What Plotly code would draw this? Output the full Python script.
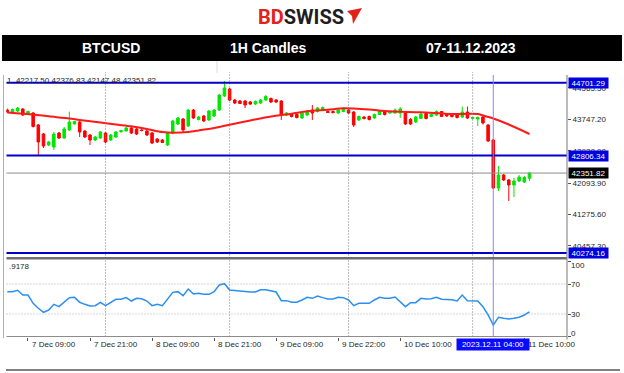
import plotly.graph_objects as go
import pandas as pd

# ---------------- data ----------------
bar_times = pd.date_range("2023-12-07 05:00", "2023-12-11 11:00", freq="h")
bar_times = bar_times[bar_times != pd.Timestamp("2023-12-09 15:00")]  # one missing hour

opens = [43990, 43938, 43964, 44016, 43886, 43912, 43601, 43367, 43081, 43029,
         43393, 43263, 43471, 43627, 43679, 43445, 43341, 43211, 43263, 43393,
         43211, 43289, 43432, 43445, 43523, 43497, 43471, 43445, 43393, 43237,
         43211, 43081, 43393, 43627, 43757, 43575, 43990, 43744, 43835, 43731,
         43835, 43990, 44354, 44536, 44250, 44224, 44224, 44198, 44146, 44172,
         44250, 44289, 44250, 44224, 43860, 43873, 43873, 43783, 43860, 43990,
         43951, 43990, 43951, 43951, 43912, 43951, 43990, 43938, 43731, 43809,
         43822, 43783, 43873, 43964, 43912, 43912, 43912, 43912, 43744, 43679,
         43770, 43899, 43822, 43860, 43951, 43873, 43860, 43886, 43809, 43938,
         43770, 43757, 43809, 43601, 43211, 41964, 42302, 42172, 42042, 42146,
         42120, 42217.50]
highs = [44029, 44029, 44068, 44042, 43977, 43938, 43627, 43393, 43185, 43419,
         43419, 43549, 43951, 43705, 43705, 43471, 43367, 43315, 43445, 43419,
         43367, 43445, 43471, 43549, 43549, 43523, 43497, 43471, 43419, 43263,
         43237, 43419, 43731, 43809, 43783, 44016, 44016, 43835, 43860, 43990,
         44016, 44406, 44744, 44562, 44276, 44250, 44250, 44224, 44237, 44276,
         44380, 44315, 44276, 44250, 43938, 43899, 43899, 43938, 43990, 44120,
         44068, 44081, 43977, 43977, 44016, 44055, 44016, 43964, 43848, 43822,
         43848, 43899, 43990, 43990, 43964, 44029, 44068, 43938, 43783, 43835,
         43912, 43925, 43886, 43977, 43964, 43886, 43886, 43912, 44081, 44081,
         43809, 43822, 43835, 43627, 43237, 42536, 42328, 42198, 42224, 42302,
         42276, 42376.83]
lows = [43912, 43925, 43938, 43835, 43860, 43536, 42821, 43003, 43055, 42951,
        43237, 43237, 43445, 43614, 43289, 43263, 43081, 43185, 43237, 43133,
        43185, 43263, 43393, 43432, 43367, 43341, 43432, 43315, 43107, 43133,
        43133, 43055, 43367, 43601, 43419, 43549, 43757, 43718, 43679, 43705,
        43809, 43964, 44328, 44224, 44146, 44146, 44042, 44120, 44120, 44146,
        44224, 44172, 44172, 43731, 43835, 43796, 43770, 43757, 43835, 43731,
        43925, 43977, 43912, 43899, 43886, 43938, 43886, 43549, 43705, 43744,
        43718, 43757, 43860, 43847, 43899, 43899, 43783, 43601, 43601, 43653,
        43757, 43744, 43809, 43835, 43809, 43809, 43796, 43770, 43783, 43757,
        43744, 43575, 43614, 43159, 41938, 41886, 42146, 41626, 41730, 42120,
        42094, 42147.48]
closes = [43938, 44003, 44042, 43860, 43951, 43562, 43159, 43055, 43159, 43367,
          43263, 43497, 43679, 43692, 43419, 43289, 43211, 43289, 43419, 43159,
          43341, 43419, 43458, 43523, 43393, 43367, 43458, 43341, 43133, 43159,
          43146, 43393, 43705, 43783, 43471, 43990, 43783, 43809, 43705, 43964,
          43990, 44380, 44562, 44250, 44172, 44159, 44120, 44146, 44211, 44250,
          44341, 44198, 44198, 43860, 43912, 43822, 43796, 43912, 43964, 43912,
          44042, 44055, 43925, 43925, 43990, 44035, 43912, 43601, 43822, 43770,
          43744, 43873, 43964, 43873, 43951, 43990, 44016, 43627, 43627, 43809,
          43886, 43770, 43873, 43951, 43822, 43835, 43822, 43796, 43938, 43783,
          43796, 43796, 43653, 43185, 41964, 42302, 42172, 42042, 42146, 42250,
          42237, 42351.82]

# moving average (read at selected bars)
ma_bars = [0, 5, 8, 12, 14, 18, 21, 24, 27, 30, 32, 35, 37, 40, 43, 47, 51, 55,
           58, 62, 65, 67, 70, 74, 80, 86, 91, 92, 94, 97, 101]
ma_vals = [43925, 43873, 43826, 43770, 43731, 43666, 43614, 43567, 43497, 43419,
           43398, 43419, 43458, 43523, 43609, 43718, 43822, 43894, 43956, 43998,
           44035, 44029, 44003, 43956, 43930, 43886, 43886, 43847, 43770, 43614,
           43367]

rsi = [59.8, 59.8, 61.6, 55.3, 55.3, 44.2, 37.6, 32.2, 35.3, 42.9,
       39.8, 46.4, 51.8, 52.2, 45.6, 42.9, 40.7, 41.1, 45.6, 41.1,
       45.1, 49.6, 49.6, 51.8, 47.3, 50.9, 50.4, 47.3, 41.1, 42.9,
       41.1, 49.6, 58.9, 59.8, 54.4, 63.3, 56.7, 57.6, 56.2, 56.2,
       59.8, 68.7, 70.4, 62.0, 61.1, 61.1, 59.8, 59.3, 59.3, 62.4,
       62.4, 60.7, 59.3, 47.8, 47.8, 45.6, 45.6, 48.7, 52.2, 50.9,
       54.0, 51.8, 50.0, 50.0, 52.2, 51.8, 48.7, 41.1, 44.2, 44.2,
       44.2, 48.7, 52.2, 50.9, 50.9, 52.7, 45.6, 39.8, 45.1, 45.1,
       50.9, 50.0, 50.4, 52.2, 49.6, 49.6, 49.1, 47.3, 55.3, 47.8,
       47.8, 47.3, 39.8, 28.7, 15.3, 25.6, 24.2, 23.3, 24.2, 25.6,
       28.7, 32.92]

level_lines = [44701.29, 42806.34, 40274.16]
last_price = 42351.82
price_ticks = [40457.30, 41275.60, 42093.90, 42928.90, 43747.20, 44565.50]
rsi_ticks = [0, 30, 70, 100]
rsi_levels = [30, 70]
time_tick_labels = ["7 Dec 09:00", "7 Dec 21:00", "8 Dec 09:00", "8 Dec 21:00",
                    "9 Dec 09:00", "9 Dec 22:00", "10 Dec 10:00", "11 Dec 10:00"]
cursor_time = "2023-12-11 04:00"
ohlc_text = "1  42217.50 42376.83 42147.48 42351.82"
rsi_text = ".9178"
header_cells = ["BTCUSD", "1H Candles", "07-11.12.2023"]

# ---------------- helpers ----------------
W, H = 624, 373
def fx(p):
    return p / W
def fy(p):
    return 1 - p / H

labels = [t.strftime("%-d %b %H:%M") for t in bar_times]
xi = list(range(len(bar_times)))
tick_idx = [labels.index(t) for t in time_tick_labels]
cursor_idx = list(bar_times).index(pd.Timestamp(cursor_time))
midnights = [i for i, t in enumerate(bar_times) if t.hour == 0]

X0, X1 = 6.5, 567.0
MAIN_T, MAIN_B = 75.0, 258.0
RSI_T, RSI_B = 259.0, 336.5
bar_px = 5.17
first_px = 7.3
xrange_ = [(X0 - first_px) / bar_px, (X1 - first_px) / bar_px]
ppx = 25.98
ref_p, ref_y = 42093.90, 183.0
yrange_ = [ref_p - (MAIN_B - ref_y) * ppx, ref_p + (ref_y - MAIN_T) * ppx]
rsi_range = [0, (RSI_B - RSI_T) / 0.75]

GREEN = "#00e600"
RED = "#ff0000"
FONT = "Liberation Sans"
TXT = "#262626"

fig = go.Figure()
fig.add_trace(go.Candlestick(
    x=xi, open=opens, high=highs, low=lows, close=closes,
    xaxis="x", yaxis="y", whiskerwidth=0,
    increasing=dict(line=dict(color=GREEN, width=1), fillcolor=GREEN),
    decreasing=dict(line=dict(color=RED, width=1), fillcolor=RED),
    showlegend=False, hoverinfo="skip"))
fig.add_trace(go.Scatter(
    x=ma_bars, y=ma_vals, mode="lines", xaxis="x", yaxis="y",
    line=dict(color="#ff1a1a", width=2, shape="spline", smoothing=0.8),
    showlegend=False, hoverinfo="skip"))
fig.add_trace(go.Scatter(
    x=xi, y=rsi, mode="lines", xaxis="x2", yaxis="y2",
    line=dict(color="#2b8ff0", width=1.5),
    showlegend=False, hoverinfo="skip"))

shapes = []
# header bar
shapes.append(dict(type="rect", xref="paper", yref="paper",
                   x0=fx(2), x1=fx(622), y0=fy(61), y1=fy(35),
                   fillcolor="#000000", line=dict(width=0), layer="below"))
shapes.append(dict(type="line", xref="paper", yref="paper",
                   x0=fx(217), x1=fx(217), y0=fy(73), y1=fy(61),
                   line=dict(color="#dcdcdc", width=1)))
# logo flag
shapes.append(dict(type="path", xref="paper", yref="paper",
                   path=f"M {fx(347)},{fy(11)} L {fx(362)},{fy(8)} L {fx(353)},{fy(24)} L {fx(352)},{fy(16)} Z",
                   fillcolor="#e2231a", line=dict(width=0)))
# day separators
for m in midnights:
    shapes.append(dict(type="line", xref="x", yref="paper", x0=m, x1=m,
                       y0=fy(RSI_B), y1=fy(MAIN_T - 3),
                       line=dict(color="#7a7a7a", width=1, dash="1px,2px")))
# rsi levels
for lv in rsi_levels:
    shapes.append(dict(type="line", xref="paper", yref="y2", x0=fx(X0), x1=fx(X1),
                       y0=lv, y1=lv, line=dict(color="#aaaaaa", width=1, dash="1px,2px")))
# horizontal level lines
for lv in level_lines:
    shapes.append(dict(type="line", xref="paper", yref="y", x0=fx(X0), x1=fx(X1),
                       y0=lv, y1=lv, line=dict(color="#0000c8", width=2)))
shapes.append(dict(type="line", xref="paper", yref="y", x0=fx(X0), x1=fx(X1),
                   y0=last_price, y1=last_price, line=dict(color="#8c8c8c", width=1)))
# cursor line
shapes.append(dict(type="line", xref="x", yref="paper", x0=cursor_idx, x1=cursor_idx,
                   y0=fy(RSI_B), y1=fy(MAIN_T), line=dict(color="#8585ff", width=1)))
# frame lines
shapes.append(dict(type="line", xref="paper", yref="paper", x0=fx(X0), x1=fx(X1),
                   y0=fy(258.3), y1=fy(258.3), line=dict(color="#6e6e6e", width=2.5)))
shapes.append(dict(type="line", xref="paper", yref="paper", x0=fx(X0), x1=fx(X1),
                   y0=fy(RSI_B), y1=fy(RSI_B), line=dict(color="#8c8c8c", width=1)))
shapes.append(dict(type="line", xref="paper", yref="paper", x0=fx(X1), x1=fx(X1),
                   y0=fy(RSI_B + 3), y1=fy(MAIN_T), line=dict(color="#8c8c8c", width=1.2)))
shapes.append(dict(type="line", xref="paper", yref="paper", x0=fx(6), x1=fx(620),
                   y0=fy(370), y1=fy(370), line=dict(color="#808080", width=2)))
shapes.append(dict(type="line", xref="paper", yref="paper", x0=fx(3.5), x1=fx(3.5),
                   y0=fy(338), y1=fy(75), line=dict(color="#b0b0b0", width=1)))

ann = []
# logo
ann.append(dict(xref="paper", yref="paper", x=fx(301), y=fy(17), showarrow=False,
                text="<b><span style='color:#e2231a'>BD</span><span style='color:#1e1e1e'>SWISS</span></b>",
                font=dict(family="Roboto", size=20), xanchor="center", yanchor="middle"))
# header cells
for txt, cx in zip(header_cells, [111, 268, 471]):
    ann.append(dict(xref="paper", yref="paper", x=fx(cx), y=fy(48), showarrow=False,
                    text=f"<b>{txt}</b>", font=dict(family=FONT, size=14, color="white"),
                    xanchor="center", yanchor="middle"))
# ohlc / rsi text
ann.append(dict(xref="paper", yref="paper", x=fx(5), y=fy(80), showarrow=False,
                text=ohlc_text, font=dict(family=FONT, size=8, color=TXT),
                xanchor="left", yanchor="middle"))
ann.append(dict(xref="paper", yref="paper", x=fx(7), y=fy(266.5), showarrow=False,
                text=rsi_text, font=dict(family=FONT, size=8, color=TXT),
                xanchor="left", yanchor="middle"))
# time labels
for i, t in zip(tick_idx, time_tick_labels):
    ann.append(dict(xref="x2", yref="paper", x=i, y=fy(344.5), showarrow=False,
                    text=t, font=dict(family=FONT, size=8, color=TXT),
                    xanchor="left", yanchor="middle", xshift=2))
ann.append(dict(xref="x2", yref="paper", x=cursor_idx, y=fy(344.5), showarrow=False,
                text=pd.Timestamp(cursor_time).strftime("%Y.%m.%d %H:%M"),
                font=dict(family=FONT, size=8, color="white"), bgcolor="#0a0aff",
                borderpad=1, width=70, xanchor="center", yanchor="middle"))
# rsi axis labels
for v, sh in zip(rsi_ticks, [3.5, 0, 0, -3.5]):
    ann.append(dict(xref="paper", yref="y2", x=fx(X1 + 2), y=v, yshift=sh, showarrow=False,
                    text=str(v), font=dict(family=FONT, size=8, color=TXT),
                    xanchor="left", yanchor="middle"))
# price boxes
for lv in level_lines:
    ann.append(dict(xref="paper", yref="y", x=fx(X1 + 1), y=lv, showarrow=False,
                    text=f"{lv:.2f}", font=dict(family=FONT, size=8, color="white"),
                    bgcolor="#0000e0", borderpad=0, width=39, height=10,
                    xanchor="left", yanchor="middle"))
ann.append(dict(xref="paper", yref="y", x=fx(X1 + 1), y=last_price, showarrow=False,
                text=f"{last_price:.2f}", font=dict(family=FONT, size=8, color="white"),
                bgcolor="#000000", borderpad=0, width=39, height=10,
                xanchor="left", yanchor="middle"))

fig.update_layout(
    width=W, height=H, margin=dict(l=0, r=0, t=0, b=0),
    paper_bgcolor="white", plot_bgcolor="white", hovermode=False,
    xaxis=dict(domain=[fx(X0), fx(X1)], range=xrange_, anchor="y",
               showticklabels=False, showgrid=False, zeroline=False, showline=False,
               ticks="", rangeslider=dict(visible=False), fixedrange=True),
    xaxis2=dict(domain=[fx(X0), fx(X1)], range=xrange_, anchor="y2", matches="x",
                showticklabels=False, showgrid=False, zeroline=False, showline=False,
                tickmode="array", tickvals=tick_idx, ticks="outside", ticklen=3,
                tickcolor="#555555", tickwidth=1),
    yaxis=dict(domain=[fy(MAIN_B), fy(MAIN_T)], range=yrange_, anchor="x", side="right",
               tickmode="array", tickvals=price_ticks,
               ticktext=[f"{v:.2f}" for v in price_ticks],
               ticks="outside", ticklen=3, tickcolor="#555555",
               tickfont=dict(family=FONT, size=8, color=TXT),
               showgrid=False, zeroline=False, showline=False),
    yaxis2=dict(domain=[fy(RSI_B), fy(RSI_T)], range=rsi_range, anchor="x2", side="right",
                tickmode="array", tickvals=rsi_ticks, showticklabels=False,
                ticks="outside", ticklen=3, tickcolor="#555555",
                showgrid=False, zeroline=False, showline=False),
    shapes=shapes, annotations=ann,
)

fig.write_html("out.html", config={"displayModeBar": False},
               post_script="document.body.style.margin='0';document.body.style.padding='0';")
